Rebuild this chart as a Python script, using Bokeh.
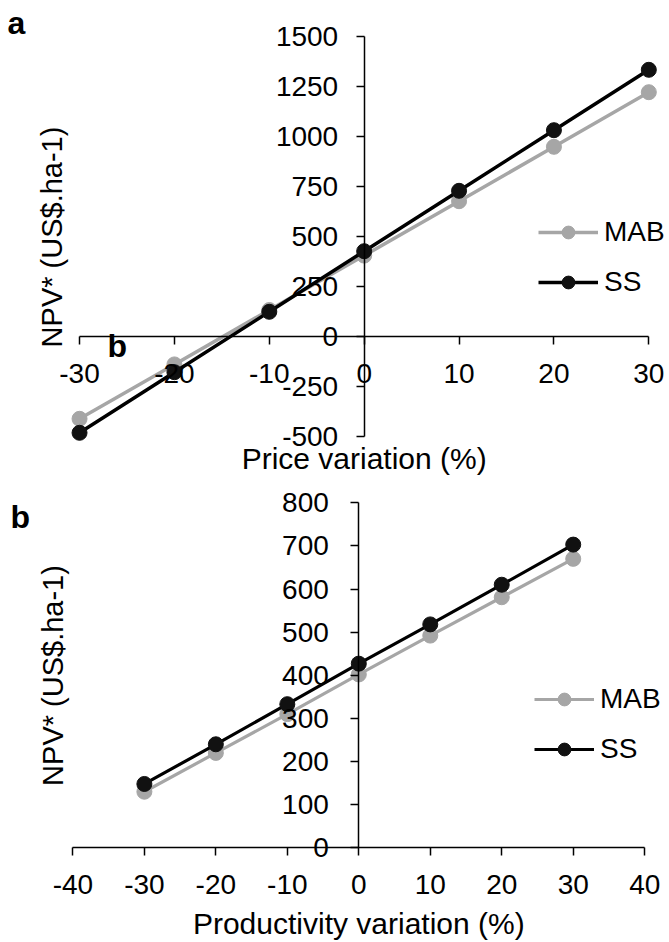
from bokeh.plotting import figure
from bokeh.models import Range1d, FixedTicker, Legend, LegendItem, Label, CustomJSTickFormatter
from bokeh.layouts import column
from bokeh.embed import file_html
from bokeh.resources import INLINE

# ---- data ----
price_var = [-30, -20, -10, 0, 10, 20, 30]
npv_price_mab = [-413, -141, 131, 403, 675, 947, 1220]
npv_price_ss = [-483, -180, 122, 425, 727, 1030, 1332]

prod_var = [-30, -20, -10, 0, 10, 20, 30]
npv_prod_mab = [130, 220, 310, 402, 492, 581, 670]
npv_prod_ss = [148, 240, 333, 427, 518, 610, 703]

xticks_a = [-30, -20, -10, 0, 10, 20, 30]
yticks_a = [-500, -250, 0, 250, 500, 750, 1000, 1250, 1500]
xticks_b = [-40, -30, -20, -10, 0, 10, 20, 30, 40]
yticks_b = [0, 100, 200, 300, 400, 500, 600, 700, 800]

series_names = ["MAB", "SS"]
GRAY = "#a6a6a6"
BLACK = "#000000"
FONT = "Liberation Sans"


def make_panel(width, height, xr, yr, xticks, yticks, x, mab, ss, lw,
               y_standoff, x_standoff, legend_loc):
    p = figure(width=width, height=height, x_range=Range1d(*xr), y_range=Range1d(*yr),
               output_backend="svg", toolbar_location=None, min_border=0)
    p.outline_line_color = None
    p.grid.visible = False
    p.background_fill_color = "white"
    p.border_fill_color = "white"

    for ax, ticks, standoff in ((p.xaxis[0], xticks, x_standoff), (p.yaxis[0], yticks, y_standoff)):
        ax.fixed_location = 0
        ax.ticker = FixedTicker(ticks=ticks)
        ax.formatter = CustomJSTickFormatter(code="return tick.toString();")
        ax.bounds = (min(ticks), max(ticks))
        ax.minor_tick_line_color = None
        ax.major_tick_in = 0
        ax.major_tick_out = 8
        ax.major_tick_line_width = 1.5
        ax.major_tick_line_color = BLACK
        ax.axis_line_width = 1.5
        ax.axis_line_color = BLACK
        ax.major_label_text_font = FONT
        ax.major_label_text_font_size = "28px"
        ax.major_label_text_color = BLACK
        ax.major_label_standoff = standoff

    l1 = p.line(x, mab, line_color=GRAY, line_width=lw)
    c1 = p.scatter(x, mab, size=15, fill_color=GRAY, line_color=GRAY)
    l2 = p.line(x, ss, line_color=BLACK, line_width=lw)
    c2 = p.scatter(x, ss, size=15, fill_color="#111111", line_color="#111111")

    legend = Legend(items=[LegendItem(label=series_names[0], renderers=[l1, c1]),
                           LegendItem(label=series_names[1], renderers=[l2, c2])],
                    location=legend_loc, orientation="vertical",
                    label_text_font=FONT, label_text_font_size="28px",
                    label_text_color=BLACK, glyph_width=60, glyph_height=32,
                    label_height=32, spacing=18, padding=0, margin=0,
                    label_standoff=6, background_fill_alpha=0,
                    border_line_color=None)
    p.add_layout(legend)
    return p


pa = make_panel(669, 478, (-38.33, 32.18), (-711.5, 1678.5), xticks_a, yticks_a,
                price_var, npv_price_mab, npv_price_ss, 3.5, 18, 20, (538, 180))
pb = make_panel(669, 464, (-50.13, 43.47), (-219.6, 856.3), xticks_b, yticks_b,
                prod_var, npv_prod_mab, npv_prod_ss, 3.2, 22, 19, (534, 177))


def lab(p, **kw):
    p.add_layout(Label(text_font=FONT, text_color=BLACK, text_baseline="alphabetic", **kw))


# panel letters
lab(pa, x=-37.59, y=1568, text="a", text_font_size="32px", text_font_style="bold")
lab(pa, x=-27.05, y=-51, text="b", text_font_size="32px", text_font_style="bold")
lab(pb, x=-48.73, y=768, text="b", text_font_size="32px", text_font_style="bold")

# axis titles
ytitle = "NPV* (US$.ha-1)"
lab(pa, x=-32.85, y=496, text=ytitle, angle=1.5708, text_font_size="29px", text_align="center")
lab(pb, x=-42.85, y=399.5, text=ytitle, angle=1.5708, text_font_size="29px", text_align="center")
lab(pa, x=0, y=-609, text="Price variation (%)", text_font_size="30px", text_align="center")
lab(pb, x=0, y=-176.7, text="Productivity variation (%)", text_font_size="30px", text_align="center")

layout = column(pa, pb, spacing=0)
open("out.html", "w").write(file_html(layout, INLINE))
